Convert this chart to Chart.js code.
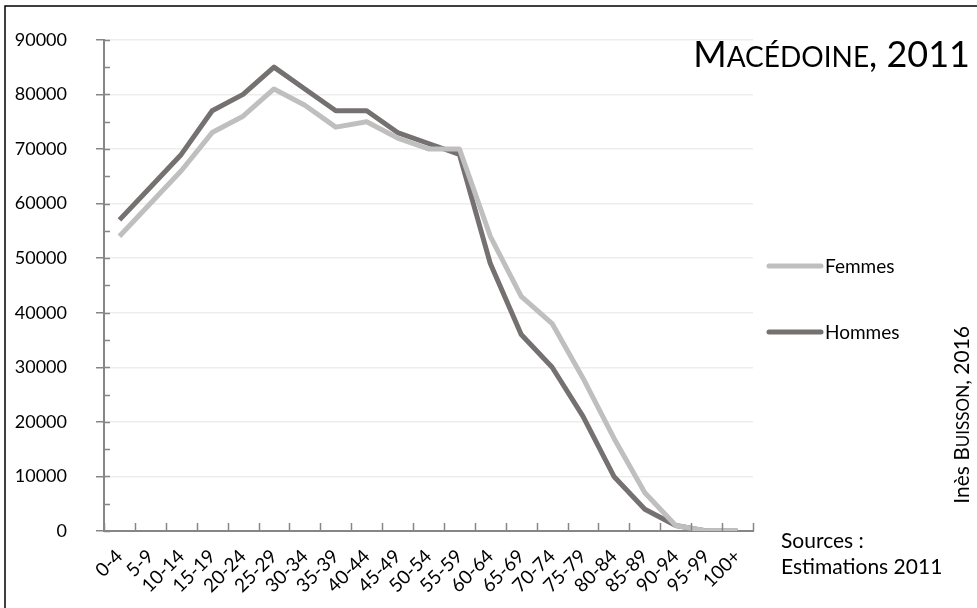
<!DOCTYPE html>
<html>
<head>
<meta charset="utf-8">
<script src="https://cdn.jsdelivr.net/npm/chart.js@4/dist/chart.umd.min.js"></script>
<style>
  html, body { margin: 0; padding: 0; background: #fff; }
  #wrap { width: 977px; height: 608px; }
</style>
</head>
<body>
<div id="wrap"><canvas id="myChart" width="977" height="608"></canvas></div>
<script>
// age groups
var ageGroups = ['0-4', '5-9', '10-14', '15-19', '20-24', '25-29', '30-34', '35-39', '40-44', '45-49',
  '50-54', '55-59', '60-64', '65-69', '70-74', '75-79', '80-84', '85-89', '90-94', '95-99', '100+'];

// population by age group
var femmes = [54000, 60000, 66000, 73000, 76000, 81000, 78000, 74000, 75000, 72000,
  70000, 70000, 54000, 43000, 38000, 28000, 17000, 7000, 1000, 0, 0];
var hommes = [57000, 63000, 69000, 77000, 80000, 85000, 81000, 77000, 77000, 73000,
  71000, 69000, 49000, 36000, 30000, 21000, 10000, 4000, 1000, 0, 0];

var yMax = 90000;
var yStep = 10000;
var yMinorStep = 5000;

var FONT = 'Lato, "Open Sans", sans-serif';
var AXIS = '#868686';

// small caps helper : array of [text, isSmall]
function drawSmallCaps(ctx, parts, big, small, x, y, align) {
  var total = 0;
  parts.forEach(function (p) {
    ctx.font = (p[1] ? small : big) + 'px ' + FONT;
    total += ctx.measureText(p[0]).width;
  });
  var cx = align === 'right' ? x - total : x;
  ctx.textAlign = 'left';
  parts.forEach(function (p) {
    ctx.font = (p[1] ? small : big) + 'px ' + FONT;
    ctx.fillText(p[0], cx, y);
    cx += ctx.measureText(p[0]).width;
  });
}

var decorPlugin = {
  id: 'decor',
  beforeDraw: function (chart) {
    var ctx = chart.ctx;
    ctx.save();
    ctx.fillStyle = '#fff';
    ctx.fillRect(0, 0, chart.width, chart.height);
    ctx.restore();
  },
  afterDraw: function (chart) {
    var ctx = chart.ctx;
    var area = chart.chartArea;
    var y = chart.scales.y;
    ctx.save();

    // frame
    ctx.strokeStyle = '#000';
    ctx.lineWidth = 1.5;
    ctx.strokeRect(5, 6, chart.width + 10, chart.height + 10);

    // y ticks inside (major + minor)
    ctx.strokeStyle = AXIS;
    ctx.lineWidth = 1.5;
    for (var v = 0; v <= yMax; v += yMinorStep) {
      var py = Math.round(y.getPixelForValue(v)) + 0.5;
      ctx.beginPath();
      ctx.moveTo(area.left, py);
      ctx.lineTo(area.left + 6, py);
      ctx.stroke();
    }
    // x ticks pointing up, on category boundaries
    var w = (area.right - area.left) / ageGroups.length;
    for (var i = 0; i <= ageGroups.length; i++) {
      var px = Math.round(area.left + i * w) + 0.5;
      ctx.beginPath();
      ctx.moveTo(px, area.bottom);
      ctx.lineTo(px, area.bottom - 8);
      ctx.stroke();
    }

    // legend
    var legY = [266, 332];
    chart.data.datasets.forEach(function (ds, k) {
      ctx.strokeStyle = ds.borderColor;
      ctx.lineWidth = 5;
      ctx.lineCap = 'round';
      ctx.beginPath();
      ctx.moveTo(769, legY[k]);
      ctx.lineTo(821, legY[k]);
      ctx.stroke();
      ctx.fillStyle = '#000';
      ctx.font = '19px ' + FONT;
      ctx.textAlign = 'left';
      ctx.textBaseline = 'middle';
      ctx.fillText(ds.label, 825, legY[k] + 1);
    });

    // title
    ctx.fillStyle = '#000';
    ctx.textBaseline = 'alphabetic';
    drawSmallCaps(ctx, [['M', false], ['ACÉDOINE', true], [', 2011', false]], 36, 28, 970, 67, 'right');

    // sources
    ctx.font = '21px ' + FONT;
    ctx.textAlign = 'left';
    ctx.fillText('Sources :', 781, 548);
    ctx.fillText('Estimations 2011', 781, 574);

    // author, vertical
    ctx.save();
    ctx.translate(969, 326);
    ctx.rotate(-Math.PI / 2);
    drawSmallCaps(ctx, [['Inès B', false], ['UISSON', true], [', 2016', false]], 21, 17, 0, 0, 'right');
    ctx.restore();

    ctx.restore();
  }
};

var ctx = document.getElementById('myChart').getContext('2d');
var chart = new Chart(ctx, {
  type: 'line',
  data: {
    labels: ageGroups,
    datasets: [{
      label: 'Femmes',
      data: femmes,
      borderColor: '#BFBFBF',
      borderWidth: 5,
      pointRadius: 0,
      fill: false,
      tension: 0,
      borderJoinStyle: 'round'
    }, {
      label: 'Hommes',
      data: hommes,
      borderColor: '#767171',
      borderWidth: 5,
      pointRadius: 0,
      fill: false,
      tension: 0,
      borderJoinStyle: 'round'
    }]
  },
  options: {
    responsive: false,
    animation: false,
    layout: { padding: { top: 28, right: 224, bottom: 0, left: 0 } },
    plugins: {
      legend: { display: false },
      tooltip: { enabled: false }
    },
    scales: {
      x: {
        offset: true,
        grid: { display: false, offset: true },
        border: { display: true, color: AXIS, width: 2 },
        ticks: {
          color: '#000',
          font: { family: FONT, size: 19 },
          minRotation: 45,
          maxRotation: 45,
          autoSkip: false,
          padding: 6
        },
        afterFit: function (scale) { scale.height = 77; }
      },
      y: {
        min: 0,
        max: yMax,
        ticks: {
          stepSize: yStep,
          color: '#000',
          font: { family: FONT, size: 18 },
          padding: 29,
          callback: function (value) { return String(value); }
        },
        grid: { color: '#EDEDED', lineWidth: 1.5, tickColor: AXIS, tickLength: 8 },
        border: { display: true, color: AXIS, width: 2 },
        afterFit: function (scale) { scale.width = 104; }
      }
    }
  },
  plugins: [decorPlugin]
});
</script>
</body>
</html>
